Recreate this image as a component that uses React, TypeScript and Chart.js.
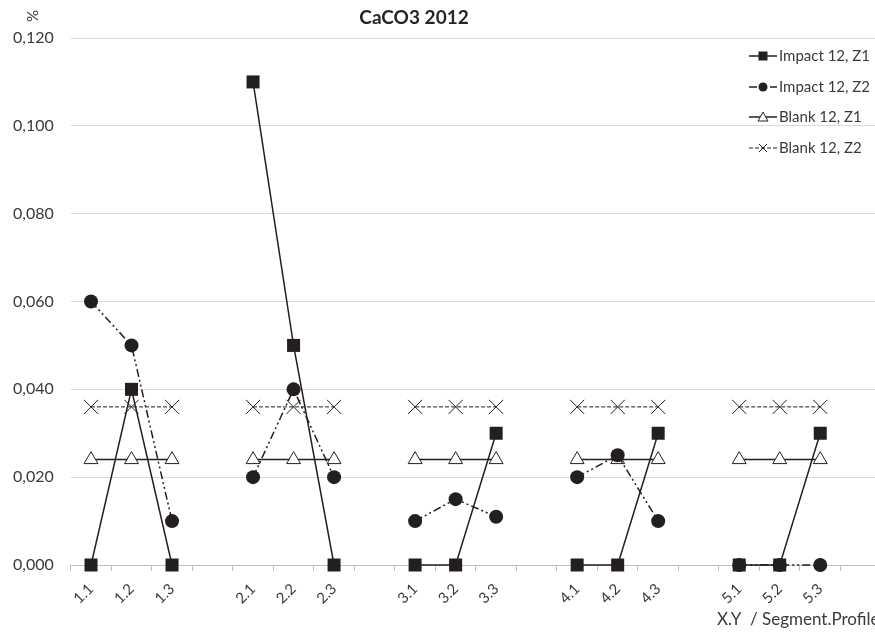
import React, { useEffect, useRef } from "react";
import { Chart, registerables } from "chart.js";

Chart.register(...registerables);

const categories = ["1.1", "1.2", "1.3", "", "2.1", "2.2", "2.3", "", "3.1", "3.2", "3.3", "", "4.1", "4.2", "4.3", "", "5.1", "5.2", "5.3", ""];
const impactZ1 = [0, 0.04, 0, null, 0.11, 0.05, 0, null, 0, 0, 0.03, null, 0, 0, 0.03, null, 0, 0, 0.03, null];
const impactZ2 = [0.06, 0.05, 0.01, null, 0.02, 0.04, 0.02, null, 0.01, 0.015, 0.011, null, 0.02, 0.025, 0.01, null, 0, 0, 0, null];
const blankZ1 = [0.024, 0.024, 0.024, null, 0.024, 0.024, 0.024, null, 0.024, 0.024, 0.024, null, 0.024, 0.024, 0.024, null, 0.024, 0.024, 0.024, null];
const blankZ2 = [0.036, 0.036, 0.036, null, 0.036, 0.036, 0.036, null, 0.036, 0.036, 0.036, null, 0.036, 0.036, 0.036, null, 0.036, 0.036, 0.036, null];
const seriesNames = ["Impact 12, Z1", "Impact 12, Z2", "Blank 12, Z1", "Blank 12, Z2"];
const yTicks = [0, 0.02, 0.04, 0.06, 0.08, 0.1, 0.12];

const INK = "#231f20";
const TEXT = "#3a3a3a";
const FONT = "Lato, 'Open Sans', sans-serif";

const overlay = {
  id: "overlay",
  afterDraw(chart: any) {
    const ctx = chart.ctx;
    ctx.save();
    // title
    ctx.fillStyle = "#262626";
    ctx.font = `bold 19px ${FONT}`;
    ctx.textAlign = "center";
    ctx.textBaseline = "middle";
    ctx.fillText("CaCO3 2012", 414, 18);
    // y unit
    ctx.save();
    ctx.translate(33, 16);
    ctx.rotate(-Math.PI / 2);
    ctx.fillStyle = TEXT;
    ctx.font = `15px ${FONT}`;
    ctx.fillText("%", 0, 0);
    ctx.restore();
    // x title
    ctx.fillStyle = TEXT;
    ctx.font = `17px ${FONT}`;
    ctx.textAlign = "left";
    ctx.fillText("X.Y  / Segment.Profile", 717, 620);
    // legend
    const rows = [56, 87, 117, 148];
    const x0 = 749, x1 = 777, xm = 763;
    chart.data.datasets.forEach((ds: any, i: number) => {
      const y = rows[i];
      ctx.strokeStyle = INK;
      ctx.lineWidth = ds.borderWidth;
      ctx.setLineDash(ds.borderDash || []);
      ctx.beginPath();
      ctx.moveTo(x0, y);
      ctx.lineTo(x1, y);
      ctx.stroke();
      ctx.setLineDash([]);
      ctx.lineWidth = 1;
      const s = ds.pointStyle;
      if (s === "rect") {
        ctx.fillStyle = INK;
        ctx.fillRect(xm - 4.5, y - 4.5, 9, 9);
      } else if (s === "circle") {
        ctx.fillStyle = INK;
        ctx.beginPath();
        ctx.arc(xm, y, 4.5, 0, Math.PI * 2);
        ctx.fill();
      } else if (s === "triangle") {
        ctx.fillStyle = "#fff";
        ctx.beginPath();
        ctx.moveTo(xm, y - 5);
        ctx.lineTo(xm + 5, y + 4);
        ctx.lineTo(xm - 5, y + 4);
        ctx.closePath();
        ctx.fill();
        ctx.stroke();
      } else {
        ctx.beginPath();
        ctx.moveTo(xm - 4, y - 4);
        ctx.lineTo(xm + 4, y + 4);
        ctx.moveTo(xm + 4, y - 4);
        ctx.lineTo(xm - 4, y + 4);
        ctx.stroke();
      }
      ctx.fillStyle = TEXT;
      ctx.font = `15px ${FONT}`;
      ctx.textAlign = "left";
      ctx.fillText(seriesNames[i], 779, y);
    });
    ctx.restore();
  },
};

export default function App() {
  const ref = useRef<HTMLCanvasElement>(null);
  useEffect(() => {
    if (!ref.current) return;
    const chart = new Chart(ref.current, {
      type: "line",
      data: {
        labels: categories,
        datasets: [
          {
            label: seriesNames[0],
            data: impactZ1,
            borderColor: INK,
            borderWidth: 1.5,
            pointStyle: "rect",
            pointRadius: 9.2,
            pointBackgroundColor: INK,
            pointBorderColor: INK,
            pointBorderWidth: 0,
            spanGaps: false,
            clip: false,
          },
          {
            label: seriesNames[1],
            data: impactZ2,
            borderColor: INK,
            borderWidth: 1.5,
            borderDash: [8, 3, 2, 3, 2, 3],
            pointStyle: "circle",
            pointRadius: 7,
            pointBackgroundColor: INK,
            pointBorderColor: INK,
            pointBorderWidth: 0,
            spanGaps: false,
            clip: false,
          },
          {
            label: seriesNames[2],
            data: blankZ1,
            borderColor: INK,
            borderWidth: 1.5,
            pointStyle: "triangle",
            pointRadius: 8,
            pointBackgroundColor: "#ffffff",
            pointBorderColor: INK,
            pointBorderWidth: 1,
            spanGaps: false,
            clip: false,
          },
          {
            label: seriesNames[3],
            data: blankZ2,
            borderColor: INK,
            borderWidth: 1,
            borderDash: [4, 2],
            pointStyle: "crossRot",
            pointRadius: 10,
            pointBackgroundColor: INK,
            pointBorderColor: INK,
            pointBorderWidth: 1,
            spanGaps: false,
            clip: false,
          },
        ],
      },
      options: {
        responsive: false,
        animation: false,
        devicePixelRatio: 1,
        layout: { padding: { top: 38, right: 19, left: 0, bottom: 0 } },
        plugins: { legend: { display: false }, title: { display: false }, tooltip: { enabled: false } },
        scales: {
          x: {
            type: "category",
            offset: true,
            afterFit: (s: any) => { s.height = 67; },
            grid: { display: true, drawOnChartArea: false, drawTicks: true, tickLength: 6, color: "#bfbfbf", offset: true },
            border: { display: true, color: "#bfbfbf" },
            ticks: { autoSkip: false, maxRotation: 45, minRotation: 45, color: TEXT, font: { size: 15, family: FONT }, padding: 9 },
          },
          y: {
            min: 0,
            max: 0.12,
            afterFit: (s: any) => { s.width = 70.75; },
            afterBuildTicks: (s: any) => { s.ticks = yTicks.map((v) => ({ value: v })); },
            grid: { color: "#d9d9d9", drawTicks: false },
            border: { display: false },
            ticks: {
              color: TEXT,
              font: { size: 16, family: FONT },
              padding: 17,
              callback: (v: any) => Number(v).toFixed(3).replace(".", ","),
            },
          },
        },
      },
      plugins: [overlay],
    });
    return () => chart.destroy();
  }, []);
  return (
    <div style={{ position: "fixed", left: 0, top: 0, width: 875, height: 632, overflow: "hidden", background: "#fff" }}>
      <canvas ref={ref} width={900} height={632} style={{ display: "block" }} />
    </div>
  );
}
